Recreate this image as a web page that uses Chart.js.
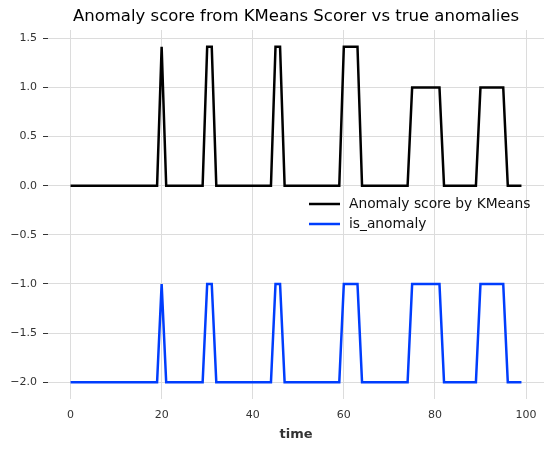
<!DOCTYPE html>
<html>
<head>
<meta charset="utf-8">
<script src="https://cdn.jsdelivr.net/npm/chart.js@4.4.1/dist/chart.umd.min.js"></script>
<style>
  html, body { margin: 0; padding: 0; background: #fff; }
  #wrap { width: 553px; height: 452px; }
</style>
</head>
<body>
<div id="wrap"><canvas id="chart"></canvas></div>
<script>
const titleText = 'Anomaly score from KMeans Scorer vs true anomalies';
const xLabel = 'time';
const seriesNames = ['Anomaly score by KMeans', 'is_anomaly'];

// one value per time step 0..99
const scoreValues = [
  0, 0, 0, 0, 0, 0, 0, 0, 0, 0,
  0, 0, 0, 0, 0, 0, 0, 0, 0, 0,
  1.414, 0, 0, 0, 0, 0, 0, 0, 0, 0,
  1.414, 1.414, 0, 0, 0, 0, 0, 0, 0, 0,
  0, 0, 0, 0, 0, 1.414, 1.414, 0, 0, 0,
  0, 0, 0, 0, 0, 0, 0, 0, 0, 0,
  1.414, 1.414, 1.414, 1.414, 0, 0, 0, 0, 0, 0,
  0, 0, 0, 0, 0, 1, 1, 1, 1, 1,
  1, 1, 0, 0, 0, 0, 0, 0, 0, 0,
  1, 1, 1, 1, 1, 1, 0, 0, 0, 0
];
const isAnomalyValues = [
  -2, -2, -2, -2, -2, -2, -2, -2, -2, -2,
  -2, -2, -2, -2, -2, -2, -2, -2, -2, -2,
  -1, -2, -2, -2, -2, -2, -2, -2, -2, -2,
  -1, -1, -2, -2, -2, -2, -2, -2, -2, -2,
  -2, -2, -2, -2, -2, -1, -1, -2, -2, -2,
  -2, -2, -2, -2, -2, -2, -2, -2, -2, -2,
  -1, -1, -1, -1, -2, -2, -2, -2, -2, -2,
  -2, -2, -2, -2, -2, -1, -1, -1, -1, -1,
  -1, -1, -2, -2, -2, -2, -2, -2, -2, -2,
  -1, -1, -1, -1, -1, -1, -2, -2, -2, -2
];
const xTicks = [0, 20, 40, 60, 80, 100];
const yTicks = [-2.0, -1.5, -1.0, -0.5, 0.0, 0.5, 1.0, 1.5];

const toPoints = vals => vals.map((v, i) => ({ x: i, y: v }));

// title centred over the plot, legend inside the plot (no frame)
const overlay = {
  id: 'overlay',
  afterDraw(chart) {
    const { ctx, chartArea: a } = chart;
    ctx.save();
    ctx.fillStyle = '#000';
    ctx.font = '16.5px "DejaVu Sans"';
    ctx.textAlign = 'center';
    ctx.textBaseline = 'middle';
    ctx.fillText(titleText, (a.left + a.right) / 2, 17);

    ctx.font = '13.8px "DejaVu Sans"';
    ctx.textAlign = 'left';
    chart.data.datasets.forEach((ds, i) => {
      const y = 204 + i * 20;
      ctx.strokeStyle = ds.borderColor;
      ctx.lineWidth = 2.5;
      ctx.beginPath();
      ctx.moveTo(309, y);
      ctx.lineTo(340, y);
      ctx.stroke();
      ctx.fillStyle = '#111';
      ctx.fillText(ds.label, 349, y);
    });
    ctx.restore();
  }
};

new Chart(document.getElementById('chart'), {
  type: 'line',
  data: {
    datasets: [
      { label: seriesNames[0], data: toPoints(scoreValues), borderColor: '#000000' },
      { label: seriesNames[1], data: toPoints(isAnomalyValues), borderColor: '#003DFD' }
    ]
  },
  options: {
    responsive: true,
    maintainAspectRatio: false,
    animation: false,
    devicePixelRatio: 1,
    layout: { padding: { top: 30, right: 9, left: 0, bottom: 0 } },
    elements: {
      line: { borderWidth: 2.5, tension: 0, fill: false },
      point: { radius: 0, hoverRadius: 0 }
    },
    plugins: { legend: { display: false }, title: { display: false }, tooltip: { enabled: false } },
    scales: {
      x: {
        type: 'linear',
        min: -4.95,
        max: 103.95,
        afterBuildTicks: s => { s.ticks = xTicks.map(v => ({ value: v })); },
        afterFit: s => { s.height = 53; },
        border: { display: false },
        grid: { color: '#dcdcdc', lineWidth: 1, drawTicks: false },
        ticks: { padding: 10, color: '#333', font: { family: 'DejaVu Sans', size: 11 } },
        title: {
          display: true,
          text: xLabel,
          color: '#333',
          font: { family: 'DejaVu Sans', size: 13, weight: 'bold' },
          padding: { top: 4, bottom: 10 }
        }
      },
      y: {
        min: -2.1707,
        max: 1.5849,
        afterBuildTicks: s => { s.ticks = yTicks.map(v => ({ value: v })); },
        afterFit: s => { s.width = 48; },
        border: { display: false },
        grid: { color: '#dcdcdc', lineWidth: 1, drawTicks: true, tickLength: 5, tickColor: '#333' },
        ticks: {
          padding: 6,
          color: '#333',
          font: { family: 'DejaVu Sans', size: 11 },
          callback: v => v.toFixed(1).replace('-', '\u2212')
        }
      }
    }
  },
  plugins: [overlay]
});
</script>
</body>
</html>
